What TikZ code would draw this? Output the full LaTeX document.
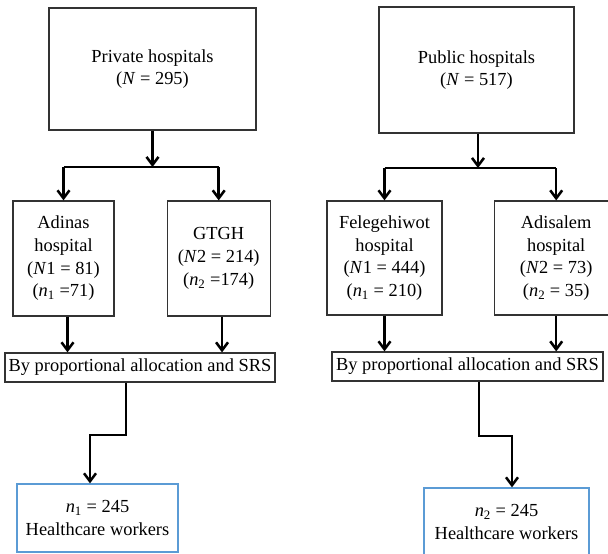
\documentclass[tikz,border=0pt]{standalone}
\usepackage{fontspec}
\setmainfont{Liberation Serif}
\usepackage{tikz}
\usetikzlibrary{arrows.meta}
\usetikzlibrary{positioning}
\definecolor{boxgray}{RGB}{51,51,51}
\definecolor{boxblue}{RGB}{91,155,213}

\begin{document}
\begin{tikzpicture}[
            x=0.75pt, y=-0.75pt,
            every node/.style={draw=boxgray, line width=0.9pt, align=center, inner sep=0pt, font=\fontsize{13.8}{17}\selectfont},
            flow/.style={draw=black, line width=1.9pt, -{Straight Barb[length=6pt, width=9pt, line width=1.9pt]}},
            branchline/.style={draw=black, line width=1.9pt},
            result/.style={draw=boxblue}
        ]
            \path[use as bounding box] (0,0) rectangle (608,554);
            % private side
            \node [minimum width=155.25pt, minimum height=91.5pt] (private) at (152.5,69) {Private hospitals\\(\textit{N} = 295)};
            \node [minimum width=75.75pt, minimum height=86.25pt] (adinas) at (63.5,258.5) {Adinas\\hospital\\(\textit{N}1 = 81)\\(\textit{n}\textsubscript{1} =71)};
            \node [right=39pt of adinas, minimum width=77.25pt, minimum height=86.25pt] (gtgh) {GTGH\\(\textit{N}2 = 214)\\(\textit{n}\textsubscript{2} =174)};
            \node [minimum width=202.5pt, minimum height=21.75pt] (srsL) at (140,367.5) {By proportional allocation and SRS};
            \node [result, minimum width=120.75pt, minimum height=51pt] (workersL) at (97.5,518) {\textit{n}\textsubscript{1} = 245\\Healthcare workers};
            % public side
            \node [minimum width=146.25pt, minimum height=94.5pt] (public) at (476.5,70) {Public hospitals\\(\textit{N} = 517)};
            \node [minimum width=86.25pt, minimum height=85.5pt] (felege) at (384.5,258) {Felegehiwot\\hospital\\(\textit{N}1 = 444)\\(\textit{n}\textsubscript{1} = 210)};
            \node [right=38.25pt of felege, minimum width=93pt, minimum height=85.5pt] (adisalem) {Adisalem\\hospital\\(\textit{N}2 = 73)\\(\textit{n}\textsubscript{2} = 35)};
            \node [minimum width=203.25pt, minimum height=21.75pt] (srsR) at (467.5,366.5) {By proportional allocation and SRS};
            \node [result, minimum width=123.75pt, minimum height=51pt] (workersR) at (506.5,522) {\textit{n}\textsubscript{2} = 245\\Healthcare workers};
            % split and bend points
            \coordinate (splitL) at (152.5,167);
            \coordinate (splitR) at (478,168);
            \coordinate (bendLa) at (126,435);
            \coordinate (bendLb) at (90,435);
            \coordinate (bendRa) at (479,436);
            \coordinate (bendRb) at (512,436);
            % connectors
            \path [flow] (private) -- (splitL);
            \path [branchline] (adinas.north |- splitL) -- (gtgh.north |- splitL);
            \path [flow] (adinas.north |- splitL) -- (adinas);
            \path [flow] (gtgh.north |- splitL) -- (gtgh);
            \path [flow] ([xshift=3pt]adinas.south) -- ([xshift=3pt]adinas.south |- srsL.north);
            \path [flow] ([xshift=2.5pt]gtgh.south) -- ([xshift=2.5pt]gtgh.south |- srsL.north);
            \path [flow] (bendLa |- srsL.south) -- (bendLa) -- (bendLb) -- (bendLb |- workersL.north);
            \path [flow] (public.south -| splitR) -- (splitR);
            \path [branchline] (felege.north |- splitR) -- (adisalem.north |- splitR);
            \path [flow] (felege.north |- splitR) -- (felege);
            \path [flow] (adisalem.north |- splitR) -- (adisalem);
            \path [flow] (felege) -- (felege.south |- srsR.north);
            \path [flow] (adisalem) -- (adisalem.south |- srsR.north);
            \path [flow] (bendRa |- srsR.south) -- (bendRa) -- (bendRb) -- (bendRb |- workersR.north);
        \end{tikzpicture}
\end{document}
